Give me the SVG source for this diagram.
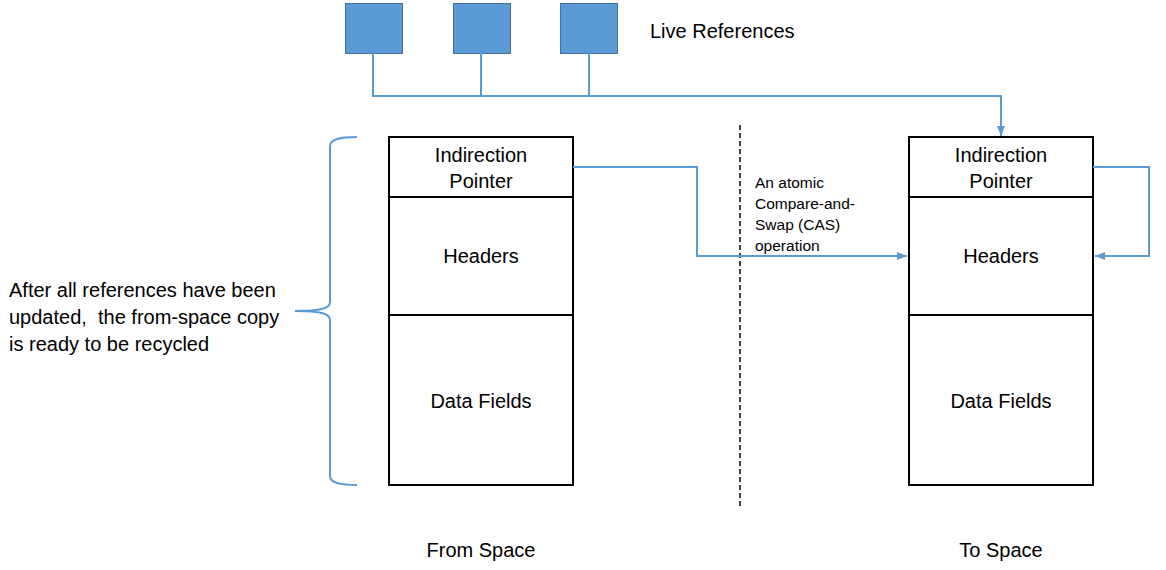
<svg xmlns="http://www.w3.org/2000/svg" width="1166" height="570" viewBox="0 0 1166 570">
<style>
text{font-family:"Liberation Sans",Arial,sans-serif;fill:#000}
.lbl{font-size:20px}
.mid{text-anchor:middle}
.small{font-size:15.5px}
.box{fill:#fff;stroke:#000;stroke-width:2}
.ref{fill:#5B9BD5;stroke:#41719C;stroke-width:1}
.conn{fill:none;stroke:#5B9BD5;stroke-width:2}
</style>
<defs>
<marker id="arr" markerUnits="userSpaceOnUse" markerWidth="10" markerHeight="10" viewBox="0 0 10 10" refX="10" refY="5" orient="auto">
<path d="M0,1 L10,5 L0,9 z" fill="#5B9BD5"/>
</marker>
</defs>
<rect width="1166" height="570" fill="#fff"/>
<g id="refs">
<rect class="ref" x="345.5" y="3.5" width="57" height="50"/>
<rect class="ref" x="453.5" y="3.5" width="57" height="50"/>
<rect class="ref" x="560.5" y="3.5" width="57" height="50"/>
<text class="lbl" x="650" y="38">Live References</text>
</g>
<g id="from-space">
<rect class="box" x="389" y="137" width="184" height="348"/>
<line x1="389" y1="197" x2="573" y2="197" stroke="#000" stroke-width="2"/>
<line x1="389" y1="315" x2="573" y2="315" stroke="#000" stroke-width="2"/>
<text class="lbl mid" x="481" y="162">Indirection</text>
<text class="lbl mid" x="481" y="188">Pointer</text>
<text class="lbl mid" x="481" y="263">Headers</text>
<text class="lbl mid" x="481" y="408">Data Fields</text>
<text class="lbl mid" x="481" y="557">From Space</text>
</g>
<g id="to-space">
<rect class="box" x="909" y="137" width="184" height="348"/>
<line x1="909" y1="197" x2="1093" y2="197" stroke="#000" stroke-width="2"/>
<line x1="909" y1="315" x2="1093" y2="315" stroke="#000" stroke-width="2"/>
<text class="lbl mid" x="1001" y="162">Indirection</text>
<text class="lbl mid" x="1001" y="188">Pointer</text>
<text class="lbl mid" x="1001" y="263">Headers</text>
<text class="lbl mid" x="1001" y="408">Data Fields</text>
<text class="lbl mid" x="1001" y="557">To Space</text>
</g>
<g id="divider">
<line x1="740" y1="125" x2="740" y2="506" stroke="#000" stroke-width="1.5" stroke-dasharray="5,3"/>
</g>
<g id="cas-label">
<text class="small" x="755" y="188">An atomic</text>
<text class="small" x="755" y="209">Compare-and-</text>
<text class="small" x="755" y="230">Swap (CAS)</text>
<text class="small" x="755" y="251">operation</text>
</g>
<g id="note">
<text class="lbl" x="9" y="297">After all references have been</text>
<text class="lbl" x="9" y="324" xml:space="preserve">updated,  the from-space copy</text>
<text class="lbl" x="9" y="351">is ready to be recycled</text>
<path class="conn" stroke-width="1.5" d="M357,137 C340,137 330,139 330,146 L330,302 C330,308 322,311 295,311 C322,311 330,314 330,320 L330,476 C330,483 340,485 357,485"/>
</g>
<g id="connectors">
<path class="conn" d="M373,53 L373,96 L1001,96 L1001,136" marker-end="url(#arr)"/>
<line class="conn" x1="481" y1="53" x2="481" y2="96"/>
<line class="conn" x1="589" y1="53" x2="589" y2="96"/>
<path class="conn" d="M573,167 L697,167 L697,256 L907,256" marker-end="url(#arr)"/>
<path class="conn" d="M1093,167 L1149,167 L1149,256 L1095,256" marker-end="url(#arr)"/>
</g>
</svg>
